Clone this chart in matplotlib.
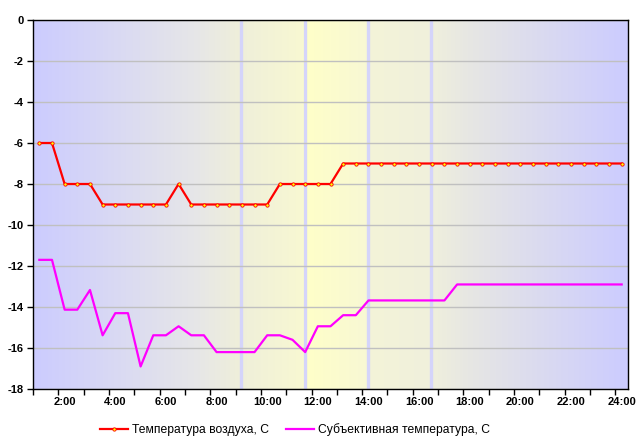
import numpy as np
import matplotlib.pyplot as plt
from matplotlib.colors import LinearSegmentedColormap

plt.rcParams['font.family'] = ['Liberation Sans', 'DejaVu Sans']
plt.rcParams['axes.unicode_minus'] = False

# Время: каждые 30 минут с 1:00 до 24:00
hours = [1 + 0.5 * i for i in range(47)]

air_temp = [-6, -6, -8, -8, -8, -9, -9, -9, -9, -9, -9, -8, -9, -9, -9, -9,
            -9, -9, -9, -8, -8, -8, -8, -8] + [-7] * 23

subj_temp = [-11.7, -11.7, -14.13, -14.13, -13.17, -15.38, -14.3, -14.3,
             -16.9, -15.38, -15.38, -14.94, -15.38, -15.38, -16.2, -16.2,
             -16.2, -16.2, -15.38, -15.38, -15.6, -16.2, -14.94, -14.94,
             -14.4, -14.4, -13.68, -13.68, -13.68, -13.68, -13.68, -13.68,
             -13.68] + [-12.9] * 14

tick_labels = ['%d:00' % h for h in range(2, 25, 2)]
y_ticks = list(range(0, -19, -2))
stripe_hours = [9.0, 11.5, 14.0, 16.5]

fig = plt.figure(figsize=(6.42, 4.47), dpi=100)
ax = fig.add_axes([33 / 642, 1 - 389 / 447, 595 / 642, 369 / 447])

x = np.arange(len(hours))

# фон: градиент ночь - день - ночь
stops = [
    (0.0, '#CCCCFF'), (0.27, '#E6E6E8'), (0.348, '#EFEFDA'), (0.453, '#F8F8D2'),
    (0.457, '#FFFFC8'), (0.56, '#F8F8D4'), (0.565, '#F4F4D8'), (0.667, '#F0F0DC'),
    (0.74, '#E6E6E4'), (1.0, '#CCCCFF'),
]
cmap = LinearSegmentedColormap.from_list('sky', stops)
grad = np.linspace(0, 1, 600).reshape(1, -1)
ax.imshow(grad, cmap=cmap, aspect='auto', extent=(-0.5, len(hours) - 0.5, -18, 0),
          zorder=0, interpolation='bilinear')

for h in stripe_hours:
    ax.axvline(hours.index(h) - 0.05, color='#D4D4FA', linewidth=2.4, zorder=1)

ax.set_ylim(-18, 0)
ax.set_xlim(-0.5, len(hours) - 0.5)
ax.set_yticks(y_ticks)
ax.yaxis.grid(True, color='#C0C0C0', linewidth=1)
ax.set_axisbelow(False)
for gl in ax.get_ygridlines():
    gl.set_zorder(1.5)

ax.plot(x, air_temp, color='#FF0000', linewidth=1.6, marker='o', markersize=2.4,
        markerfacecolor='#FFFF00', markeredgecolor='#FF0000', markeredgewidth=0.6,
        label='Температура воздуха, С', zorder=3)
ax.plot(x, subj_temp, color='#FF00FF', linewidth=1.6,
        label='Субъективная температура, С', zorder=3)

label_pos = [hours.index(float(h)) for h in range(2, 25, 2)]
ax.set_xticks(label_pos)
ax.set_xticklabels(tick_labels)
ax.set_xticks(np.arange(-0.5, len(hours) - 1, 2), minor=True)
ax.tick_params(axis='x', which='major', length=0, pad=6)
ax.tick_params(axis='x', which='minor', length=4, width=1, direction='out')
ax.tick_params(axis='y', length=4, width=1, direction='out', pad=3)
for lbl in ax.get_xticklabels() + ax.get_yticklabels():
    lbl.set_fontsize(8)
    lbl.set_fontweight('bold')

for s in ax.spines.values():
    s.set_color('black')
    s.set_linewidth(1)
    s.set_zorder(4)

fig.legend(loc='center', bbox_to_anchor=(295 / 642, 1 - 430 / 447), ncol=2, frameon=False,
           fontsize=8.7, handlelength=2.3, columnspacing=1.4, handletextpad=0.35)

fig.savefig('out.png', dpi=100)
